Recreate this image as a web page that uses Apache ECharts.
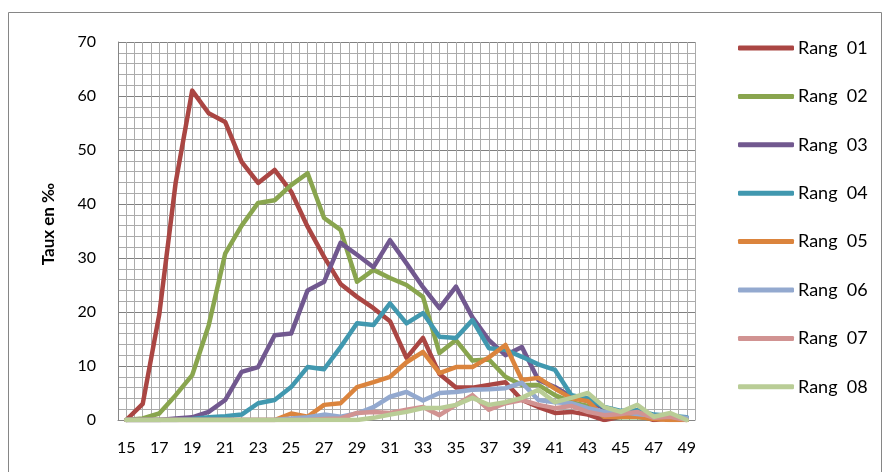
<!DOCTYPE html>
<html>
<head>
<meta charset="utf-8">
<script src="https://cdn.jsdelivr.net/npm/echarts@6/dist/echarts.min.js"></script>
<style>
  html, body { margin: 0; padding: 0; background: #fff; }
  #chart { width: 885px; height: 472px; }
</style>
</head>
<body>
<div id="chart"></div>
<script>
const ages = [15, 16, 17, 18, 19, 20, 21, 22, 23, 24, 25, 26, 27, 28, 29, 30, 31, 32, 33, 34, 35, 36, 37, 38, 39, 40, 41, 42, 43, 44, 45, 46, 47, 48, 49];

const rang01 = [0, 3, 19.5, 44, 61, 56.8, 55.2, 47.8, 43.9, 46.3, 42.3, 35.8, 30.2, 25.2, 22.8, 20.7, 18.3, 11.5, 15.2, 8.5, 6, 6, 6.5, 7, 3.7, 2.4, 1.3, 1.5, 1, 0, 0.6, 1, 0, 0.3, 0];
const rang02 = [0, 0.3, 1.2, 4.6, 8.3, 17.5, 30.8, 36, 40.2, 40.7, 43.5, 45.7, 37.4, 35.2, 25.6, 27.8, 26.3, 25, 22.8, 12.4, 14.8, 11, 11.2, 8, 6.5, 6.5, 4.6, 3.3, 2.6, 0.6, 0.5, 0.5, 0.3, 0.3, 0];
const rang03 = [0, 0, 0, 0.3, 0.5, 1.5, 3.7, 8.9, 9.8, 15.7, 16, 24, 25.6, 32.8, 30.6, 28.3, 33.3, 29, 24.6, 20.7, 24.7, 19, 14.8, 12, 13.5, 7.4, 6.1, 4.3, 3.5, 2.2, 1.3, 1.3, 0.8, 0.6, 0.3];
const rang04 = [0, 0, 0, 0, 0.2, 0.5, 0.7, 1, 3.1, 3.7, 6.1, 9.8, 9.4, 13.5, 17.9, 17.6, 21.6, 17.9, 19.8, 15.4, 15.2, 18.5, 13.3, 13, 11.7, 10.3, 9.3, 4.6, 4, 2.4, 1.7, 1.8, 1, 0.8, 0.5];
const rang05 = [0, 0, 0, 0, 0, 0, 0, 0, 0, 0, 1.2, 0.6, 2.8, 3.1, 6.1, 7, 8, 10.7, 12.6, 8.7, 9.8, 9.8, 11.6, 13.9, 7.4, 7.8, 5.8, 4, 3.5, 0.6, 0.6, 0.6, 0.2, 0, 0];
const rang06 = [0, 0, 0, 0, 0, 0, 0, 0, 0, 0, 0.3, 0.5, 1, 0.6, 1.2, 2.4, 4.3, 5.2, 3.6, 5, 5.2, 5.6, 5.7, 5.9, 6.9, 3.7, 3.3, 3.1, 2.2, 1.5, 1.5, 1.1, 0.8, 0.6, 0.4];
const rang07 = [0, 0, 0, 0, 0, 0, 0, 0, 0, 0, 0, 0, 0.2, 0.3, 1.3, 1.5, 1.3, 1.9, 2.4, 0.9, 2.8, 4.6, 1.9, 3.1, 3.7, 2.8, 2.2, 2.6, 1.5, 0.9, 1.1, 1.5, 0.4, 0.6, 0];
const rang08 = [0, 0, 0, 0, 0, 0, 0, 0, 0, 0, 0, 0, 0, 0, 0, 0.4, 1, 1.5, 2.2, 2.2, 2.8, 4.1, 2.8, 3.3, 4.1, 5.6, 3.3, 4.1, 5, 2.4, 1.5, 2.8, 0.6, 1.3, 0];

const seriesNames = ["Rang  01", "Rang  02", "Rang  03", "Rang  04", "Rang  05", "Rang  06", "Rang  07", "Rang  08"];
const seriesValues = [rang01, rang02, rang03, rang04, rang05, rang06, rang07, rang08];
const colors = ["#AA4643", "#89A54E", "#71588F", "#4198AF", "#DB843D", "#93A9CF", "#D19392", "#B9CD96"];

const chart = echarts.init(document.getElementById("chart"), null, { renderer: "canvas" });

const font = "Lato, 'Open Sans', sans-serif";

chart.setOption({
  animation: false,
  backgroundColor: "#fff",
  color: colors,
  textStyle: { fontFamily: font },
  graphic: [
    {
      type: "rect",
      shape: { x: 8.5, y: 12.5, width: 873, height: 470 },
      style: { fill: "none", stroke: "#868686", lineWidth: 1 },
      silent: true,
    },
    {
      // y-axis title, placed by hand to sit where the original has it
      type: "text",
      x: 49,
      y: 224,
      rotation: Math.PI / 2,
      style: {
        text: "Taux en ‰",
        fontSize: 17,
        fontWeight: "bold",
        fontFamily: font,
        fill: "#000",
        align: "center",
        verticalAlign: "middle",
      },
      silent: true,
    },
  ],
  grid: { left: 118, right: 190, top: 42, bottom: 52 },
  legend: {
    orient: "vertical",
    left: 738,
    top: 39,
    padding: 0,
    itemWidth: 56,
    itemHeight: 5,
    itemGap: 30.4,
    icon: "roundRect",
    textStyle: { fontSize: 18, color: "#000", fontFamily: font, lineHeight: 18, padding: [0, 0, 0, -1] },
    data: seriesNames,
  },
  xAxis: {
    type: "value",
    min: 14.5,
    max: 49.5,
    interval: 0.5,
    axisLine: { show: true, lineStyle: { color: "#868686", width: 1 } },
    axisTick: { show: false },
    axisLabel: {
      fontSize: 16,
      color: "#000",
      margin: 20,
      showMinLabel: true,
      showMaxLabel: true,
      formatter: (v) => (Number.isInteger(v) && v % 2 === 1 ? String(v) : ""),
    },
    splitLine: { show: true, lineStyle: { color: "#ababab", width: 1 } },
  },
  yAxis: {
    type: "value",
    min: 0,
    max: 70,
    interval: 10,
    axisLine: { show: true, lineStyle: { color: "#868686", width: 1 } },
    axisTick: { show: false },
    axisLabel: { fontSize: 16, color: "#000", margin: 22 },
    splitLine: { show: true, lineStyle: { color: "#808080", width: 1 } },
    minorTick: { show: false, splitNumber: 5 },
    minorSplitLine: { show: true, lineStyle: { color: "#ababab", width: 1 } },
  },
  series: seriesNames.map((name, i) => ({
    name: name,
    type: "line",
    symbol: "none",
    smooth: false,
    data: ages.map((a, j) => [a, seriesValues[i][j]]),
    lineStyle: { width: 4.5, color: colors[i], join: "round", cap: "round" },
    itemStyle: { color: colors[i] },
  })),
});
</script>
</body>
</html>
